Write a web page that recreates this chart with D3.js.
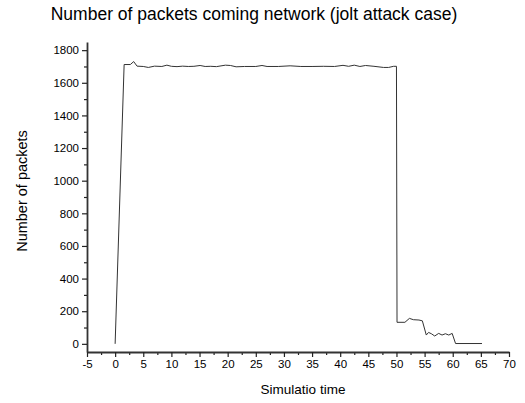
<!DOCTYPE html>
<html>
<head>
<meta charset="utf-8">
<script src="https://cdn.jsdelivr.net/npm/d3@7"></script>
<style>
  body { margin: 0; background: #fff; }
  text { font-family: "Liberation Sans", Arial, sans-serif; fill: #000; }
</style>
</head>
<body>
<svg id="chart" width="525" height="403"></svg>
<script>
// data
const times = [0, 1.6, 2.7, 3.3, 3.9, 5, 5.9, 7, 8.3, 9.2, 10, 11, 12, 13, 14, 15.1, 16, 17, 18,
  19.6, 20.5, 21.5, 23, 25, 26.1, 27, 29, 31.1, 33, 35, 37, 39, 40.5, 41.5, 42.5, 43.5, 44.5,
  46, 47.7, 48.6, 49.5, 50, 50.1, 51.5, 52.3, 53, 54, 54.6, 55.3, 55.7, 56.2, 56.8, 57.5, 58.1,
  58.7, 59.3, 59.9, 60.5, 65.2];
const packets = [0, 1712, 1712, 1730, 1702, 1700, 1694, 1702, 1700, 1708, 1701, 1699, 1702, 1700, 1701, 1706, 1700, 1701, 1699,
  1708, 1706, 1698, 1700, 1700, 1706, 1700, 1700, 1704, 1700, 1700, 1701, 1700, 1707, 1701, 1708, 1700, 1706,
  1701, 1694, 1694, 1701, 1701, 132, 132, 156, 148, 146, 141, 54, 70, 62, 48, 64, 54,
  62, 54, 64, 2, 2];
const xTicks = d3.range(-5, 71, 5);
const yTicks = d3.range(0, 1801, 200);

const svg = d3.select("#chart");
const x = d3.scaleLinear().domain([-5, 70]).range([87, 509]);
const y = d3.scaleLinear().domain([-50, 1850]).range([352, 42]);
const fmt = d => String(d); // plain hyphen minus, no thousands comma

// minor ticks
svg.append("g")
  .attr("transform", "translate(0,352)")
  .call(d3.axisBottom(x).tickValues(d3.range(-2.5, 70, 5)).tickSize(3).tickFormat(""))
  .call(g => g.select(".domain").remove());
svg.append("g")
  .attr("transform", "translate(87,0)")
  .call(d3.axisLeft(y).tickValues(d3.range(100, 1801, 200)).tickSize(3).tickFormat(""))
  .call(g => g.select(".domain").remove());

svg.append("g")
  .attr("transform", "translate(0,352)")
  .call(d3.axisBottom(x).tickValues(xTicks).tickSize(5).tickSizeOuter(0).tickPadding(3).tickFormat(fmt));
svg.append("g")
  .attr("transform", "translate(87,0)")
  .call(d3.axisLeft(y).tickValues(yTicks).tickSize(5).tickSizeOuter(0).tickPadding(3).tickFormat(fmt));

svg.selectAll(".tick line").attr("stroke", "#222").attr("stroke-width", 1.2);
svg.selectAll(".domain").attr("stroke", "#333").attr("stroke-width", 1.8);
svg.selectAll(".tick text")
  .style("font-family", "'Liberation Sans', Arial, sans-serif")
  .style("font-size", "11.5px").attr("fill", "#000");

const line = d3.line().x((d, i) => x(times[i])).y(d => y(d));
svg.append("path")
  .datum(packets)
  .attr("d", line)
  .attr("fill", "none")
  .attr("stroke", "#333")
  .attr("stroke-width", 1);

svg.append("text")
  .attr("x", 254).attr("y", 20)
  .attr("text-anchor", "middle")
  .style("font-size", "17.5px")
  .text("Number of packets coming network (jolt attack case)");

svg.append("text")
  .attr("x", 303).attr("y", 394)
  .attr("text-anchor", "middle")
  .style("font-size", "13.5px")
  .text("Simulatio time");

svg.append("text")
  .attr("transform", "translate(27,191) rotate(-90)")
  .attr("text-anchor", "middle")
  .style("font-size", "14.5px")
  .text("Number of packets");
</script>
</body>
</html>
